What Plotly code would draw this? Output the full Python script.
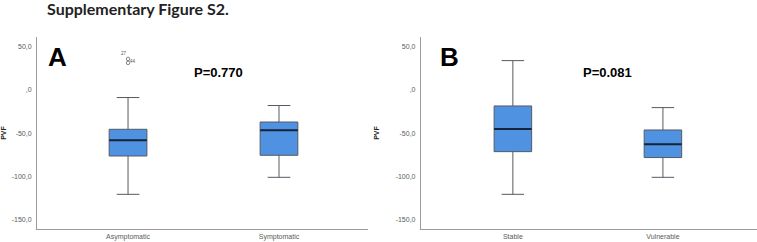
import plotly.graph_objects as go

# Panel A data
cats_a = ["Asymptomatic", "Symptomatic"]
q1_a = [-76.2, -75.4]
med_a = [-58.1, -46.5]
q3_a = [-45.4, -37.0]
lo_a = [-120.4, -100.8]
hi_a = [-8.8, -18.0]
out_a_cat = ["Asymptomatic", "Asymptomatic"]
out_a_val = [35.8, 31.2]
out_a_lbl = ["27", "44"]

# Panel B data
cats_b = ["Stable", "Vulnerable"]
q1_b = [-71.2, -78.0]
med_b = [-45.0, -62.7]
q3_b = [-18.5, -46.2]
lo_b = [-120.4, -100.8]
hi_b = [33.8, -20.4]

y_ticks = [50, 0, -50, -100, -150]
y_tick_text = ["50,0", ",0", "-50,0", "-100,0", "-150,0"]

BOX_FILL = "#5092e2"
BOX_LINE = "#555a62"
BOX_W = 0.25

fig = go.Figure()

def add_box(cats, q1, med, q3, lo, hi, xa, ya):
    pos = list(range(len(cats)))
    fig.add_trace(go.Box(
        x=pos, q1=q1, median=med, q3=q3, lowerfence=lo, upperfence=hi,
        xaxis=xa, yaxis=ya, width=BOX_W, whiskerwidth=0.6,
        fillcolor=BOX_FILL, line=dict(color=BOX_LINE, width=1),
        boxpoints=False, showlegend=False, hoverinfo="skip",
    ))
    # darker median line overlay
    for i, m in zip(pos, med):
        fig.add_trace(go.Scatter(
            x=[i - BOX_W / 2, i + BOX_W / 2], y=[m, m], mode="lines",
            xaxis=xa, yaxis=ya, line=dict(color="#14243a", width=2),
            showlegend=False, hoverinfo="skip",
        ))

add_box(cats_a, q1_a, med_a, q3_a, lo_a, hi_a, "x", "y")
add_box(cats_b, q1_b, med_b, q3_b, lo_b, hi_b, "x2", "y2")

# outliers
out_pos = [cats_a.index(c) for c in out_a_cat]
fig.add_trace(go.Scatter(
    x=out_pos, y=out_a_val, mode="markers", xaxis="x", yaxis="y",
    marker=dict(symbol="circle-open", size=3.5, color="#666", line=dict(width=0.8)),
    showlegend=False, hoverinfo="skip",
))
for p, v, t, dx, dy in zip(out_pos, out_a_val, out_a_lbl, [-4, 5], [5, 1]):
    fig.add_annotation(x=p, y=v, xref="x", yref="y", text=t, showarrow=False,
                       xshift=dx, yshift=dy,
                       font=dict(size=4.5, color="#555", family="Liberation Sans"))

ydom = [0.0537, 0.847]
axis_common = dict(showgrid=False, zeroline=False, showline=True,
                   linecolor="#9a9a9a", linewidth=1, ticks="", automargin=False,
                   tickfont=dict(size=7, color="#5a5a5a", family="Liberation Sans"))
yax_common = dict(axis_common, range=[-160.4, 61], tickvals=y_ticks,
                  ticktext=y_tick_text, ticklabelstandoff=3,
                  title=dict(text="<b>PVF</b>", font=dict(size=7, color="#222", family="Liberation Sans")))

fig.update_layout(
    width=757, height=242,
    margin=dict(l=0, r=0, t=0, b=0),
    paper_bgcolor="white", plot_bgcolor="white",
    xaxis=dict(axis_common, domain=[0.0489, 0.486], range=[-0.603, 1.589],
               tickvals=list(range(len(cats_a))), ticktext=cats_a,
               anchor="y", ticklabelstandoff=1, ticklabeloverflow="allow"),
    yaxis=dict(yax_common, domain=ydom, anchor="x"),
    xaxis2=dict(axis_common, domain=[0.556, 1.0], range=[-0.613, 1.627],
                tickvals=list(range(len(cats_b))), ticktext=cats_b,
                anchor="y2", ticklabelstandoff=1, ticklabeloverflow="allow"),
    yaxis2=dict(yax_common, domain=ydom, anchor="x2"),
)

def px_ann(text, xpx, ypx, size, family="Liberation Sans", color="black"):
    fig.add_annotation(x=xpx / 757, y=1 - ypx / 242, xref="paper", yref="paper",
                       text=text, showarrow=False, xanchor="left", yanchor="middle",
                       font=dict(size=size, color=color, family=family))

px_ann("<b>Supplementary Figure S2.</b>", 45, 8, 16, family="Lato", color="#222")
px_ann("<b>A</b>", 46, 57, 26)
px_ann("<b>P=0.770</b>", 192, 72, 13)
px_ann("<b>B</b>", 438, 57, 26)
px_ann("<b>P=0.081</b>", 581, 72, 13)

fig.write_html("out.html", config={"displayModeBar": False},
               post_script="document.body.style.margin='0';")
